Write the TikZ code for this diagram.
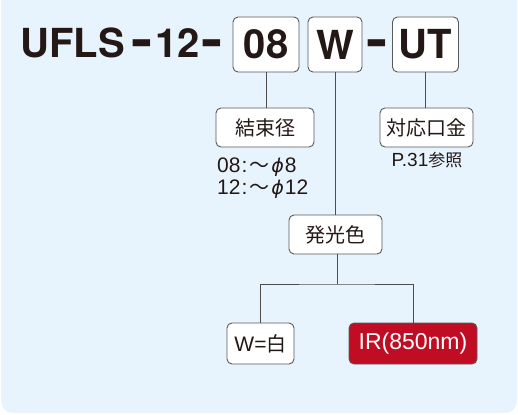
\documentclass[tikz,border=0pt]{standalone}
\usepackage{fontspec}
\usepackage{graphicx}
\newfontfamily\jpfont{Noto Sans CJK JP}
\newfontfamily\latfont{Liberation Sans}
\newfontfamily\phifont[FakeSlant=0.2]{DejaVu Sans}
\newfontfamily\ttlfont{TeX Gyre Heros}
\definecolor{bgblue}{HTML}{E8F4FD}
\definecolor{inkdark}{HTML}{231815}
\definecolor{linegray}{HTML}{4D4D4D}
\definecolor{boxgray}{HTML}{5A5A5A}
\definecolor{irred}{HTML}{C00D23}
\newcommand{\jpsz}[1]{\jpfont\fontsize{#1}{#1}\selectfont}
\newcommand{\latsz}[1]{\latfont\fontsize{#1}{#1}\selectfont}
\newcommand{\diam}{{\phifont\fontsize{19}{19}\selectfont ϕ}\kern2pt}
\tikzset{
  codebox/.style={draw=boxgray, line width=0.9pt, fill=white, rounded corners=5pt, inner sep=0pt,
    text=inkdark, font=\ttlfont\bfseries\fontsize{40}{40}\selectfont},
  labelbox/.style={draw=boxgray, line width=0.9pt, fill=white, rounded corners=5pt, inner sep=0pt,
    text=inkdark, font=\jpsz{20}},
  titletext/.style={inner sep=0pt, anchor=base, text=inkdark, font=\ttlfont\bfseries\fontsize{40}{40}\selectfont},
  notetext/.style={inner sep=0pt, text=inkdark, font=\latsz{21}},
  conn/.style={draw=linegray, line width=0.9pt}
}
\begin{document}
\begin{tikzpicture}[x=1pt, y=-1pt]
\useasboundingbox (0,0) rectangle (518,414);
\fill[bgblue] (1,0) -- (517,0) -- (517,401) arc[start angle=0, end angle=90, radius=12] -- (13,413)
  arc[start angle=90, end angle=180, radius=12] -- cycle;

% title
\node[titletext] (ufls) at (72.5,58) {UFLS};
\node[titletext] (d1) at (142.5,58) {\scalebox{1.6}[1.3]{-}};
\node[titletext] (n12) at (177.5,58) {12};
\node[titletext] (d2) at (212,58) {\scalebox{1.6}[1.3]{-}};
\node[titletext] (d3) at (377,58) {\scalebox{1.6}[1.3]{-}};

\node[codebox, minimum width=66pt, minimum height=55pt] (b08) at (266,44.5) {08};
\node[codebox, minimum width=54pt, minimum height=55pt] (bW) at (335,44.5) {W};
\node[codebox, minimum width=66pt, minimum height=55pt] (bUT) at (425.5,44.5) {UT};

% second level
\node[labelbox, minimum width=98pt, minimum height=39pt] (kessoku) at (265,127.5) {結束径};
\node[labelbox, minimum width=93pt, minimum height=39pt] (taio) at (426.5,127.5) {対応口金};
\node[notetext, anchor=base west] (n1) at (217,172) {08\kern1pt:\kern2pt{\jpsz{20}～}\kern1pt\diam8};
\node[notetext, anchor=base west] (n2) at (217,194) {12\kern1pt:\kern2pt{\jpsz{20}～}\kern1pt\diam12};
\node[notetext, anchor=base] (p31) at (427,166) {\latsz{19}P.31{\jpsz{17}参照}};

\node[labelbox, minimum width=93pt, minimum height=39pt] (hakko) at (335.5,234.5) {発光色};
\node[labelbox, minimum width=67pt, minimum height=41pt] (wbox) at (260.5,343.5) {{\latsz{21}W=}白};
\node[labelbox, minimum width=128pt, minimum height=41pt, fill=irred, text=white, font=\latsz{23}] (irbox) at (413,343.5) {IR(850nm)};

\coordinate (j) at (337,284);

% connectors
\draw[conn] (b08.south) -- (b08.south |- kessoku.north);
\draw[conn] (bUT.south) -- (bUT.south |- taio.north);
\draw[conn] (bW.south) -- (bW.south |- hakko.north);
\draw[conn] (hakko.south -| j) -- (j);
\draw[conn] (wbox.north) |- (j) -| (irbox.north);
\end{tikzpicture}
\end{document}
